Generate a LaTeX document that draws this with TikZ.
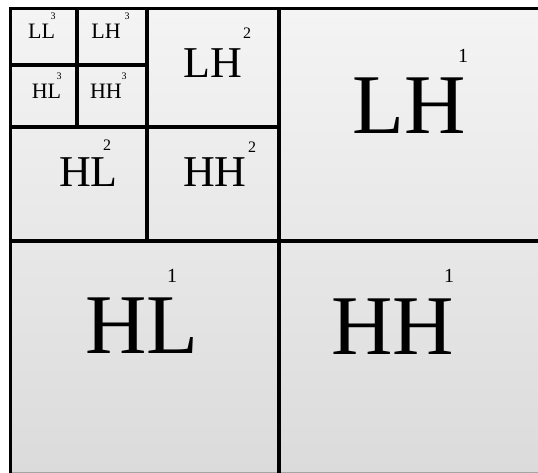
\documentclass[tikz,border=0pt]{standalone}
\usepackage{fontspec}
\setmainfont{Liberation Serif}
\definecolor{shadetop}{RGB}{244,244,244}
\definecolor{shadebot}{RGB}{219,219,219}

\begin{document}
\begin{tikzpicture}[
    x=1pt, y=-1pt,
    border/.style={line width=3.6pt, draw=black},
    split/.style={line width=4.2pt, draw=black},
    bandone/.style={anchor=base, inner sep=0pt, text height=0.68em, text depth=0pt, font=\fontsize{85}{85}\selectfont},
    bandtwo/.style={anchor=base, inner sep=0pt, text height=0.68em, text depth=0pt, font=\fontsize{44}{44}\selectfont},
    bandthree/.style={anchor=base, inner sep=0pt, text height=0.68em, text depth=0pt, font=\fontsize{22}{22}\selectfont},
    supone/.style={anchor=base, inner sep=0pt, text height=0.7em, text depth=0pt, font=\fontsize{20}{20}\selectfont},
    suptwo/.style={anchor=base, inner sep=0pt, text height=0.7em, text depth=0pt, font=\fontsize{16}{16}\selectfont},
    supthree/.style={anchor=base, inner sep=0pt, text height=0.7em, text depth=0pt, font=\fontsize{10}{10}\selectfont}
]
\useasboundingbox (0,0) rectangle (538,473);

% background
\shade[top color=shadetop, bottom color=shadebot] (10.5,8.5) rectangle (545,473);
\draw[gray!70, line width=1pt] (10.5,472.5) -- (545,472.5);
\draw[border] (545,8.5) -- (10.5,8.5) -- (10.5,473);

% ==================== level 1 ====================
\draw[split] (279,8.5) -- (279,473);
\draw[split] (10.5,241) -- (545,241);

% ==================== level 2 ====================
\draw[border] (147,8.5) -- (147,241);
\draw[border] (10.5,127) -- (279,127);

% ==================== level 3 ====================
\draw[border] (77,8.5) -- (77,127);
\draw[border] (10.5,65) -- (147,65);

% labels level 1
\node[bandone] (LH1) at (409,134) {LH};
\node[supone] (LH1sup) at (463,63) {1};
\node[bandone] (HL1) at (142,353) {HL};
\node[supone] (HL1sup) at (172,282) {1};
\node[bandone] (HH1) at (393,354) {HH};
\node[supone] (HH1sup) at (449,282) {1};

% labels level 2
\node[bandtwo] (LH2) at (213,78) {LH};
\node[suptwo] (LH2sup) at (247,39) {2};
\node[bandtwo] (HL2) at (88.5,187) {HL};
\node[suptwo] (HL2sup) at (107,151) {2};
\node[bandtwo] (HH2) at (215,187) {HH};
\node[suptwo] (HH2sup) at (252,153) {2};

% labels level 3
\node[bandthree] (LL3) at (41.5,39) {LL};
\node[supthree] (LL3sup) at (53,20) {3};
\node[bandthree] (LH3) at (106,39) {LH};
\node[supthree] (LH3sup) at (127,20) {3};
\node[bandthree] (HL3) at (46.5,99) {HL};
\node[supthree] (HL3sup) at (59,80) {3};
\node[bandthree] (HH3) at (106,99) {HH};
\node[supthree] (HH3sup) at (124,80) {3};

\end{tikzpicture}
\end{document}
